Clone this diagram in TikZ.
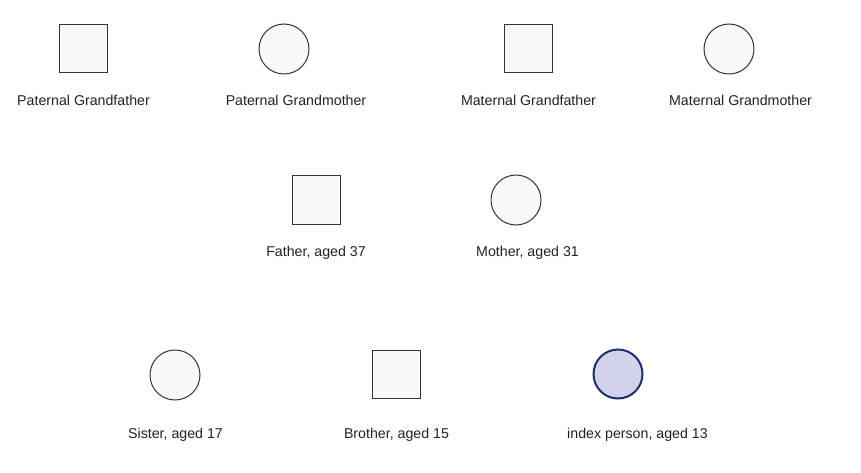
\documentclass[tikz,border=0pt]{standalone}
\usepackage{fontspec}
\setmainfont{Liberation Sans}
\definecolor{shapefill}{HTML}{F9F9F9}
\definecolor{shapeline}{HTML}{333333}
\definecolor{indexfill}{HTML}{D0D3EA}
\definecolor{indexline}{HTML}{1F2D6B}
\definecolor{labelcol}{HTML}{222222}
\tikzset{
  male/.style={draw=shapeline, fill=shapefill, line width=1pt, minimum size=48pt, inner sep=0pt, rectangle},
  female/.style={draw=shapeline, fill=shapefill, line width=1pt, minimum size=50pt, inner sep=0pt, circle},
  indexp/.style={draw=indexline, fill=indexfill, line width=2pt, minimum size=49pt, inner sep=0pt, circle},
  lbl/.style={font=\fontsize{14.2}{16}\selectfont, text=labelcol, inner sep=0pt, anchor=base}
}
\begin{document}
\begin{tikzpicture}[x=1pt,y=-1pt]
\useasboundingbox[fill=white] (0,0) rectangle (861,473);
% grandparents
\node[male]   (pgf) at (83,48.5) {};
\node[female] (pgm) at (284,49) {};
\node[male]   (mgf) at (528.5,48.5) {};
\node[female] (mgm) at (729,49) {};
\node[lbl] (pgfl) at (83.5,105.5) {Paternal Grandfather};
\node[lbl] (pgml) at (296,105.5) {Paternal Grandmother};
\node[lbl] (mgfl) at (528.5,105.5) {Maternal Grandfather};
\node[lbl] (mgml) at (740.5,105.5) {Maternal Grandmother};
% parents
\node[male]   (fa) at (316,200) {};
\node[female] (mo) at (516,200) {};
\node[lbl] (fal) at (316,256.5) {Father, aged 37};
\node[lbl] (mol) at (527.5,256.5) {Mother, aged 31};
% children
\node[female] (si) at (175,375) {};
\node[male]   (br) at (396.5,374.5) {};
\node[indexp] (ix) at (618,374) {};
\node[lbl] (sil) at (175.5,438.5) {Sister, aged 17};
\node[lbl] (brl) at (396.5,438.5) {Brother, aged 15};
\node[lbl] (ixl) at (637.5,438.5) {index person, aged 13};
\end{tikzpicture}
\end{document}
